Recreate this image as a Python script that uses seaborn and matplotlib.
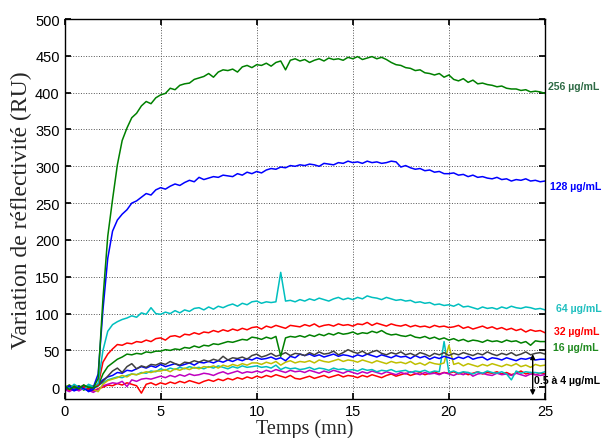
import numpy as np
import pandas as pd
import matplotlib
matplotlib.use("Agg")
import matplotlib.pyplot as plt
import seaborn as sns

# temps de mesure (mn), pas de 0.25
temps = np.linspace(0, 25, 101)

c256 = [2, -3, 1, -2, 3, 0, -1, 12, 120, 205,
        255, 302, 335, 352, 366, 372, 382, 388, 385, 393,
        397, 399, 406, 404, 410, 412, 413, 418, 420, 422,
        426, 421, 428, 431, 430, 432, 428, 435, 437, 434,
        438, 437, 440, 436, 441, 443, 431, 444, 446, 443,
        445, 441, 444, 446, 443, 447, 445, 446, 444, 448,
        446, 449, 445, 447, 449, 446, 448, 445, 441, 438,
        437, 434, 433, 430, 431, 427, 426, 424, 426, 421,
        424, 418, 416, 419, 414, 417, 412, 413, 411, 410,
        408, 409, 406, 405, 405, 403, 404, 401, 402, 401,
        399]
c128 = [-3, 2, -4, 1, -2, -5, 0, 18, 105, 175,
        212, 227, 235, 241, 250, 253, 258, 263, 261, 268,
        271, 269, 273, 276, 274, 278, 281, 279, 285, 282,
        284, 286, 285, 288, 287, 286, 290, 288, 292, 290,
        293, 291, 295, 297, 296, 299, 298, 301, 300, 302,
        301, 303, 302, 300, 304, 303, 302, 305, 304, 307,
        305, 306, 304, 307, 305, 306, 304, 305, 307, 306,
        299, 301, 298, 296, 297, 294, 295, 292, 293, 290,
        290, 291, 288, 289, 286, 288, 285, 286, 284, 283,
        285, 282, 283, 280, 282, 281, 283, 280, 281, 279,
        280]
c64 = [3, -2, 4, 0, -3, 2, 1, 5, 50, 76,
       85, 89, 92, 94, 97, 95, 101, 99, 108, 100,
       99, 102, 100, 104, 101, 105, 103, 107, 108, 105,
       109, 106, 110, 108, 111, 113, 110, 114, 112, 116,
       117, 114, 116, 115, 116, 156, 117, 118, 116, 119,
       117, 120, 118, 121, 119, 117, 120, 122, 119, 121,
       119, 122, 120, 124, 122, 121, 119, 122, 120, 118,
       119, 117, 118, 115, 116, 114, 115, 112, 113, 111,
       112, 110, 113, 109, 110, 108, 106, 109, 107, 108,
       106, 109, 107, 110, 108, 107, 109, 108, 106, 107,
       105]
c32 = [1, -4, 2, -2, 0, -3, 2, 3, 34, 45,
       52, 58, 57, 60, 59, 62, 61, 64, 62, 66,
       67, 64, 69, 70, 68, 72, 71, 74, 72, 75,
       74, 77, 75, 78, 76, 79, 77, 80, 78, 81,
       82, 79, 83, 81, 84, 82, 80, 84, 83, 82,
       85, 83, 86, 82, 84, 85, 83, 86, 84, 85,
       83, 86, 85, 88, 84, 87, 85, 83, 86, 84,
       83, 85, 82, 84, 82, 83, 81, 84, 82, 83,
       81, 82, 84, 80, 82, 79, 81, 83, 80, 82,
       79, 81, 78, 80, 77, 79, 75, 78, 76, 77,
       74]
c16 = [-2, 3, -1, 2, -4, 1, 0, 2, 18, 28,
       33, 38, 41, 45, 44, 46, 45, 48, 47, 49,
       49, 51, 50, 52, 51, 54, 53, 56, 54, 57,
       56, 59, 58, 60, 62, 61, 63, 65, 64, 68,
       67, 65, 68, 66, 69, 42, 67, 69, 68, 70,
       68, 71, 69, 72, 70, 73, 71, 74, 72, 73,
       75, 72, 74, 73, 76, 74, 77, 73, 71, 72,
       70, 69, 71, 68, 67, 69, 66, 68, 65, 67,
       64, 66, 63, 65, 62, 64, 63, 61, 64, 62,
       63, 61, 64, 62, 63, 60, 62, 57, 63, 62,
       62]
# groupe 0.5 a 4 ug/mL
bas_gris = [1, -3, 2, -1, 3, -2, 0, 2, 8, 15,
            22, 26, 20, 28, 32, 25, 29, 27, 31, 30,
            33, 31, 35, 32, 30, 34, 33, 36, 34, 37,
            35, 38, 36, 42, 37, 40, 39, 41, 38, 43,
            45, 41, 43, 46, 42, 44, 47, 43, 46, 45,
            43, 47, 44, 48, 45, 46, 49, 44, 47, 51,
            48, 46, 49, 45, 48, 50, 46, 44, 47, 45,
            48, 44, 46, 43, 47, 45, 42, 46, 44, 47,
            43, 46, 44, 47, 45, 43, 46, 44, 48, 45,
            43, 46, 44, 47, 43, 45, 48, 44, 46, 47,
            45]
bas_bleu = [-4, -1, -5, -2, 0, -6, -3, 4, 10, 14,
            16, 20, 19, 23, 22, 25, 28, 26, 29, 27,
            31, 28, 30, 32, 29, 31, 33, 30, 34, 33,
            35, 33, 36, 34, 37, 35, 38, 36, 39, 37,
            40, 38, 39, 41, 38, 40, 36, 42, 40, 45,
            43, 45, 42, 44, 41, 43, 45, 42, 44, 43,
            41, 44, 42, 45, 43, 41, 44, 42, 40, 43,
            41, 42, 39, 43, 40, 42, 38, 41, 39, 42,
            40, 38, 41, 39, 42, 38, 40, 41, 37, 40,
            39, 37, 40, 38, 36, 39, 38, 40, 37, 38,
            38]
bas_jaune = [0, 3, -2, 2, -1, 1, -3, -6, 4, 9,
             11, 13, 16, 14, 18, 17, 19, 21, 20, 22,
             22, 24, 21, 25, 23, 26, 24, 27, 25, 28,
             27, 29, 26, 30, 28, 31, 29, 32, 30, 33,
             33, 31, 34, 32, 35, 30, 34, 36, 33, 35,
             34, 36, 33, 37, 35, 34, 36, 38, 35, 37,
             36, 34, 37, 35, 33, 36, 34, 32, 35, 33,
             34, 32, 35, 31, 33, 30, 34, 32, 31, 33,
             57, 31, 33, 29, 32, 30, 28, 31, 29, 32,
             30, 28, 31, 29, 32, 28, 30, 27, 31, 29,
             30]
bas_cyan = [2, -1, 3, 0, -2, 4, 1, 3, 6, 10,
            12, 14, 13, 16, 18, 17, 20, 19, 22, 21,
            25, 23, 26, 24, 27, 25, 28, 26, 27, 25,
            28, 26, 29, 27, 25, 28, 26, 29, 27, 28,
            29, 27, 28, 26, 30, 24, 27, 25, 26, 24,
            25, 27, 24, 26, 25, 23, 26, 24, 25, 23,
            24, 22, 25, 23, 24, 21, 23, 22, 24, 21,
            22, 23, 20, 22, 21, 23, 20, 22, 21, 62,
            20, 22, 19, 21, 20, 18, 21, 19, 22, 20,
            19, 21, 18, 10, 22, 19, 21, 20, 20, 19,
            21]
bas_magenta = [-3, -6, -2, -5, -1, -4, -7, -3, 2, 4,
               6, 5, 8, 1, 10, 8, 11, 12, 11, 13,
               15, 13, 16, 14, 17, 15, 18, 16, 17, 19,
               18, 16, 19, 21, 18, 20, 22, 19, 21, 20,
               22, 20, 23, 21, 24, 22, 20, 23, 21, 22,
               20, 23, 21, 19, 22, 20, 23, 21, 19, 22,
               20, 18, 21, 19, 22, 20, 18, 21, 19, 17,
               20, 18, 21, 19, 17, 20, 18, 19, 17, 20,
               18, 16, 19, 17, 20, 15, 18, 19, 17, 16,
               19, 17, 18, 16, 19, 17, 15, 18, 17, 16,
               17]
bas_rouge = [-1, -4, 1, -3, 2, -2, -5, -2, 0, 3,
             2, 5, 3, 6, 4, 2, -8, 4, 6, 3,
             6, 4, 7, 5, 8, 6, 9, 7, 5, 8,
             10, 8, 11, 9, 12, 10, 13, 11, 14, 12,
             15, 13, 16, 14, 17, 15, 13, 16, 12, 11,
             13, 15, 12, 14, 16, 13, 15, 17, 14, 16,
             15, 13, 16, 14, 17, 15, 13, 16, 18, 15,
             17, 19, 16, 18, 20, 17, 19, 21, 18, 20,
             19, 21, 18, 20, 17, 19, 21, 18, 20, 19,
             21, 18, 20, 17, 19, 22, 18, 20, 17, 19,
             18]

VERT = "#008000"
BLEU = "#0000ff"
CYAN = "#00bfbf"
ROUGE = "#ff0000"
MAGENTA = "#bf00bf"
JAUNE = "#bfbf00"
GRIS = "#404040"

series = [
    (bas_rouge, ROUGE), (bas_magenta, MAGENTA), (bas_cyan, CYAN),
    (bas_jaune, JAUNE), (bas_bleu, BLEU), (bas_gris, GRIS),
    (c16, VERT), (c32, ROUGE), (c64, CYAN), (c128, BLEU), (c256, VERT),
]

sns.set_theme(style="ticks")
plt.rcParams.update({
    "font.family": ["Liberation Sans", "DejaVu Sans"],
    "axes.edgecolor": "black",
    "axes.linewidth": 1.0,
    "xtick.direction": "in",
    "ytick.direction": "in",
    "xtick.top": True,
    "ytick.right": True,
    "xtick.major.size": 4,
    "ytick.major.size": 4,
    "xtick.labelsize": 10.5,
    "ytick.labelsize": 10.5,
    "xtick.color": "black",
    "ytick.color": "black",
})

fig = plt.figure(figsize=(6.04, 4.39), dpi=100)
ax = fig.add_axes([0.1068, 0.0888, 0.7955, 0.8656])

for vals, col in series:
    sns.lineplot(x=temps, y=vals, color=col, linewidth=1.1, ax=ax)

ax.set_xlim(0, 25)
ax.set_ylim(-16, 500)
ax.set_xticks([0, 5, 10, 15, 20, 25])
ax.set_yticks(range(0, 501, 50))
ax.grid(True, linestyle=":", color="#555555", linewidth=0.7)
for s in ax.spines.values():
    s.set_visible(True)

ax.set_xlabel("Temps (mn)", family="Liberation Serif", fontsize=14.5, labelpad=0)
ax.set_ylabel("Variation de réflectivité (RU)", family="Liberation Serif",
              fontsize=17, labelpad=2)

# etiquettes des concentrations
etiquettes = [
    ("256 µg/mL", 25.15, 409, "#2e6b45"),
    ("128 µg/mL", 25.25, 273, BLEU),
    ("64 µg/mL", 25.55, 107, "#1fbfbf"),
    ("32 µg/mL", 25.46, 76, ROUGE),
    ("16 µg/mL", 25.41, 54, "#1f8a1f"),
    ("0.5 à 4 µg/mL", 24.45, 10, "black"),
]
for txt, x, y, col in etiquettes:
    ax.text(x, y, txt, color=col, fontsize=7.6, fontweight="bold",
            va="center", ha="left", clip_on=False, zorder=5)

ax.annotate("", xy=(24.36, -11), xytext=(24.36, 45),
            arrowprops=dict(arrowstyle="<|-|>", color="black", lw=1.0,
                            mutation_scale=7, shrinkA=0, shrinkB=0))

fig.savefig("out.png", dpi=100, facecolor="white")
